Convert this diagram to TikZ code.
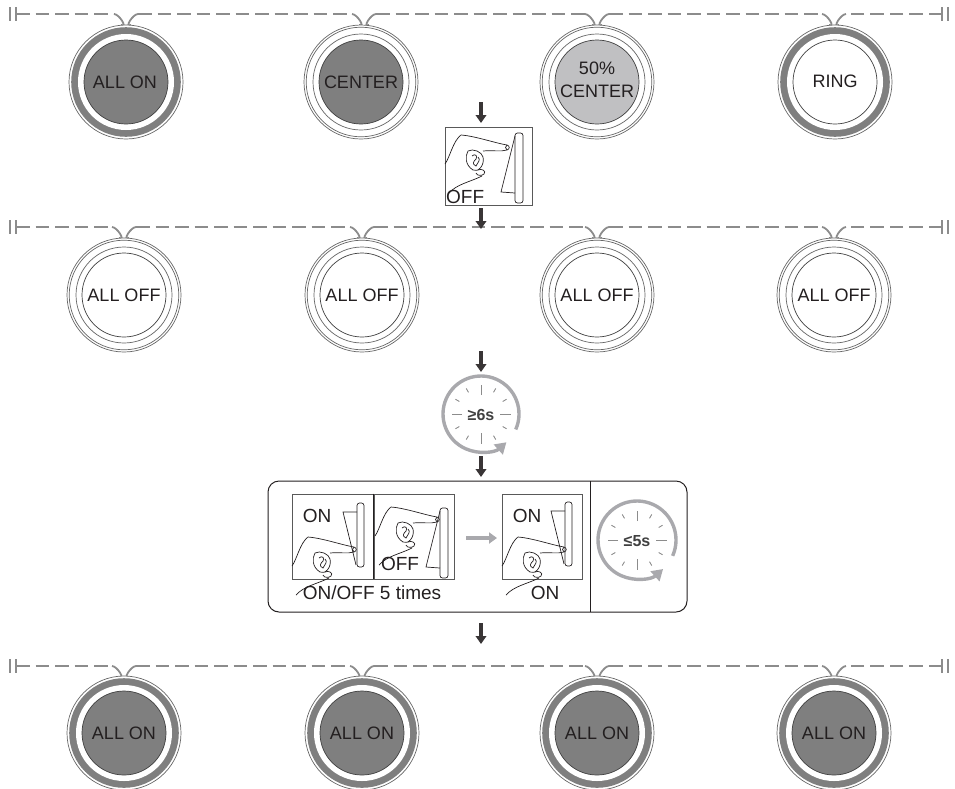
\documentclass[tikz,border=0pt]{standalone}
\usepackage{fontspec}
\setmainfont{Liberation Sans}
\usetikzlibrary{arrows.meta}
\definecolor{ringdark}{HTML}{7F7F7F}
\definecolor{halfgrey}{HTML}{C0C0C2}
\definecolor{wire}{HTML}{8C8C8C}
\definecolor{clockgrey}{HTML}{A9A9AD}
\definecolor{ink}{HTML}{231F20}
\tikzset{
  wireline/.style={draw=wire,line width=2.4pt},
  wiredash/.style={wireline,dash pattern=on 13.5pt off 6pt},
  flowarrow/.style={draw=ink!90,line width=3.6pt,-{Triangle[width=10.5pt,length=8pt]}},
  iconbox/.style={draw=black!65,line width=.8pt},
  thinline/.style={draw=ink,line width=.7pt},
  txt/.style={text=ink,font=\fontsize{18}{20}\selectfont,inner sep=0pt,align=center},
  pics/lampfull/.style n args={2}{code={
    \draw[black!60,line width=.7pt,fill=white] (0,0) circle (57);
    \fill[#1] (0,0) circle (54.8);
    \fill[white] (0,0) circle (48);
    \draw[black!75,line width=.7pt,fill=#2] (0,0) circle (42);
  }},
  pics/lampthin/.style={code={
    \draw[black!60,line width=.7pt,fill=white] (0,0) circle (57);
    \draw[black!60,line width=.7pt] (0,0) circle (54.8);
    \draw[black!60,line width=.7pt] (0,0) circle (48);
    \draw[black!75,line width=.7pt,fill=#1] (0,0) circle (42);
  }},
  pics/handpic/.style={code={
    \draw[thinline] (0,29) .. controls (5,22) and (8,6) .. (16,0)
      .. controls (30,1) and (50,8) .. (62,10)
      .. controls (65,11) and (65,14) .. (62,15)
      .. controls (55,17) and (48,15) .. (38,16);
    \draw[thinline] (62,10) .. controls (60,11) and (60,14) .. (62,15);
    \draw[thinline] (23,16) .. controls (20,21) and (20,30) .. (28,35)
      .. controls (33,38) and (40,30) .. (38,22) .. controls (37,17) and (28,13) .. (23,16);
    \draw[thinline] (27,21) .. controls (30,18) and (33,21) .. (31,24)
      .. controls (28,27) and (27,29) .. (31,31) .. controls (33,27) and (36,25) .. (33,22);
    \draw[thinline] (33,35) .. controls (36,33) and (42,36) .. (39,39) .. controls (37,41) and (32,41) .. (31,38);
    \draw[thinline] (37,41) .. controls (25,47) and (12,49) .. (4,58) ;
  }},
  pics/paddleoff/.style={code={
    \draw[thinline,rounded corners=2.5pt] (0,0) rectangle (8,70);
    \draw[thinline] (0,3) -- (-14,59) -- (0,60);
  }},
  pics/paddleon/.style={code={
    \draw[thinline,rounded corners=2.5pt] (0,0) rectangle (7,64);
    \draw[thinline] (0,9) -- (-14,9) -- (-1,62);
  }},
  pics/clockface/.style n args={2}{code={
    \foreach \ang/\inr in {0/19,30/25,60/25,90/19,120/25,150/25,180/19,210/25,240/25,270/19,300/25,330/25}{
      \draw[draw=#2,line width=.9pt] (\ang:\inr) -- (\ang:29.5);
    }
    \draw[draw=clockgrey,line width=3.4pt,-{Triangle[width=13pt,length=11pt]}]
      (24:#1) arc[start angle=24,end angle=-312,radius=#1];
  }},
}
\newcommand{\wirerow}[5]{% y, centres
  \coordinate (wl#1) at (16,#1);
  \coordinate (wr#1) at (942,#1);
  \draw[wireline,line width=1.2pt] (10,#1-7) -- (10,#1+7);
  \draw[wireline,line width=1.2pt] (16,#1-7) -- (16,#1+7);
  \draw[wireline,line width=1.2pt] (942,#1-7) -- (942,#1+7);
  \draw[wireline,line width=1.2pt] (948,#1-7) -- (948,#1+7);
  \foreach \cx/\tag in {#2/a,#3/b,#4/c,#5/d}{
    \coordinate (al\tag) at (\cx-12,#1);
    \coordinate (ar\tag) at (\cx+12,#1);
    \draw[wireline,line width=1.8pt] (al\tag) .. controls +(5,0) and +(7,3) .. ++(7,11);
    \draw[wireline,line width=1.8pt] (ar\tag) .. controls +(-5,0) and +(-7,3) .. ++(-7,11);
  }
  \draw[wiredash] (wl#1) -- (ala);
  \draw[wiredash] (ara) -- (alb);
  \draw[wiredash] (arb) -- (alc);
  \draw[wiredash] (arc) -- (ald);
  \draw[wiredash] (wr#1) -- (ard);
}
\begin{document}
\begin{tikzpicture}[x=1pt,y=-1pt]
\useasboundingbox (0,0) rectangle (955,788);
% wires
\wirerow{14}{126}{364}{597}{834}
\wirerow{227}{124}{362}{597}{834}
\wirerow{666}{124}{362}{597}{834}
% row 1
\pic at (126,82) {lampfull={ringdark}{ringdark}};
\node[txt] (t1) at (125,82) {ALL ON};
\pic at (361,82) {lampthin=ringdark};
\node[txt] (t2) at (361,82) {CENTER};
\pic at (597,82) {lampthin=halfgrey};
\node[txt,font=\fontsize{18}{23}\selectfont] (t3) at (597,80) {50\%\\CENTER};
\pic at (835,82) {lampfull={ringdark}{white}};
\node[txt] (t4) at (835,81) {RING};
% row 2
\foreach \xp/\nm in {124/a,362/b,597/c,834/d}{
  \pic at (\xp,295) {lampthin=white};
  \node[txt] (off\nm) at (\xp,295) {ALL OFF};
}
% row 4
\foreach \xp/\nm in {124/a,362/b,597/c,834/d}{
  \pic at (\xp,733) {lampfull={ringdark}{ringdark}};
  \node[txt] (on\nm) at (\xp,733) {ALL ON};
}
% switch OFF icon
\node[iconbox,minimum width=87pt,minimum height=78pt,inner sep=0pt] (officon) at (488.5,166) {};
\pic at (445,135) {handpic};
\pic at (515,133) {paddleoff};
\node[txt,anchor=south west,font=\fontsize{19}{20}\selectfont] (offlabel) at (446,204) {OFF};
% arrows
\coordinate (a1s) at (481,102); \coordinate (a1e) at (481,123);
\coordinate (a2s) at (481,208); \coordinate (a2e) at (481,229);
\coordinate (a3s) at (481,351); \coordinate (a3e) at (481,372);
\coordinate (a4s) at (481,456); \coordinate (a4e) at (481,477);
\coordinate (a5s) at (481,623); \coordinate (a5e) at (481,644);
\draw[flowarrow] (a1s) -- (a1e);
\draw[flowarrow] (a2s) -- (a2e);
\draw[flowarrow] (a3s) -- (a3e);
\draw[flowarrow] (a4s) -- (a4e);
\draw[flowarrow] (a5s) -- (a5e);
% clock 1
\pic at (481,414) {clockface={38}{black!45}};
\node[text=black!75,font=\bfseries\fontsize{16}{18}\selectfont,inner sep=0pt] (c1) at (481,415) {≥6s};
% panel
\draw[draw=ink,line width=1pt,rounded corners=11pt] (268,481) rectangle (687,612);
\draw[draw=ink,line width=1pt] (590,481) -- (590,612);
% panel icons
\node[iconbox,minimum width=81pt,minimum height=85pt,inner sep=0pt] (i1) at (332.5,536.5) {};
\node[iconbox,minimum width=80pt,minimum height=85pt,inner sep=0pt] (i2) at (414,536.5) {};
\draw[thinline,line width=.9pt] (i1.north east) -- (i1.south east);
\node[iconbox,minimum width=80pt,minimum height=85pt,inner sep=0pt] (i3) at (542,536.5) {};
\pic at (292,537) {handpic};
\pic at (357,503) {paddleon};
\node[txt,font=\fontsize{19}{20}\selectfont] (on1) at (317,516) {ON};
\pic at (375,507) {handpic};
\pic at (440,508) {paddleoff};
\node[txt,font=\fontsize{19}{20}\selectfont] (off1) at (400,564) {OFF};
\pic at (502,537) {handpic};
\pic at (565,502) {paddleon};
\node[txt,font=\fontsize{19}{20}\selectfont] (on2) at (527,516) {ON};
\coordinate (g1) at (466,538); \coordinate (g2) at (497,538);
\draw[draw=clockgrey,line width=4pt,-{Triangle[width=11pt,length=8pt]}] (g1) -- (g2);
\node[txt,font=\fontsize{19}{20}\selectfont] (l1) at (372,593) {ON/OFF 5 times};
\node[txt,font=\fontsize{19}{20}\selectfont] (l2) at (545,593) {ON};
% clock 2
\pic at (637,540) {clockface={39}{black!45}};
\node[text=black!75,font=\bfseries\fontsize{16}{18}\selectfont,inner sep=0pt] (c2) at (637,541) {≤5s};
\end{tikzpicture}
\end{document}
